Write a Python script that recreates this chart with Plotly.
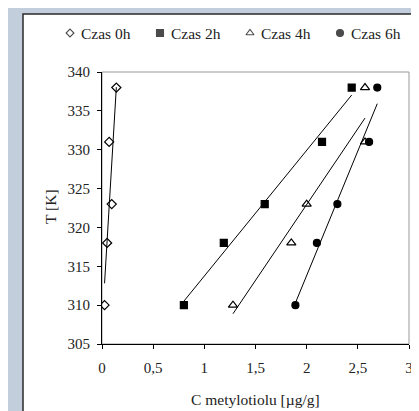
import numpy as np
import plotly.graph_objects as go

# Data (C metylotiolu [µg/g] vs T [K])
T = [310, 318, 323, 331, 338]
c_0h = [0.025, 0.05, 0.095, 0.07, 0.14]
c_2h = [0.80, 1.19, 1.59, 2.15, 2.44]
c_4h = [1.28, 1.85, 2.00, 2.57, 2.57]
c_6h = [1.89, 2.10, 2.30, 2.61, 2.69]
names = ["Czas 0h", "Czas 2h", "Czas 4h", "Czas 6h"]
x_ticks = [0, 0.5, 1, 1.5, 2, 2.5, 3]
y_ticks = [305, 310, 315, 320, 325, 330, 335, 340]
x_title = "C metylotiolu [µg/g]"
y_title = "T [K]"

series = [c_0h, c_2h, c_4h, c_6h]
symbols = ["diamond-open", "square", "triangle-up-open", "circle"]
sizes = [7, 7, 8, 7]

font = "Liberation Serif"
W, H = 419, 411
PL, PR, PT, PB = 94, 401, 64, 336   # plot area in pixels


def fx(p):
    return p / W


def fy(p):
    return 1 - p / H


fig = go.Figure()
for c, n, s, sz in zip(series, names, symbols, sizes):
    fig.add_trace(go.Scatter(x=c, y=T, mode="markers", name=n, showlegend=False,
                             marker=dict(symbol=s, size=sz, color="black",
                                         line=dict(color="black", width=1.2))))
for c in series:
    a, b = np.polyfit(c, T, 1)
    xs = np.array([min(c), max(c)])
    fig.add_trace(go.Scatter(x=xs, y=a * xs + b, mode="lines", showlegend=False,
                             line=dict(color="black", width=1), hoverinfo="skip"))

# manual legend on a full-figure pixel overlay
leg_mx = [62, 152, 242, 332]
leg_y = 25
fig.add_trace(go.Scatter(x=leg_mx, y=[leg_y] * 4, mode="markers", xaxis="x2", yaxis="y2",
                         showlegend=False, hoverinfo="skip",
                         marker=dict(symbol=symbols, size=[6, 7, 7, 7], color="black",
                                     line=dict(color="black", width=1.1))))
annotations = []
for mx, n in zip(leg_mx, names):
    annotations.append(dict(text=n, xref="paper", yref="paper", x=fx(mx + 9), y=fy(leg_y),
                            xanchor="left", yanchor="middle", showarrow=False,
                            font=dict(size=15.5, family=font, color="#222")))
annotations.append(dict(text=x_title, xref="paper", yref="paper", x=fx(248), y=fy(391),
                        xanchor="center", yanchor="middle", showarrow=False,
                        font=dict(size=15.5, family=font, color="#222")))
annotations.append(dict(text=y_title, xref="paper", yref="paper", x=fx(43), y=fy(199),
                        xanchor="center", yanchor="middle", showarrow=False, textangle=-90,
                        font=dict(size=15.5, family=font, color="#222")))

fig.update_layout(
    width=W, height=H,
    margin=dict(l=0, r=0, t=0, b=0, pad=0),
    paper_bgcolor="#c3cedc",
    plot_bgcolor="rgba(0,0,0,0)",
    separators=", ",
    font=dict(family=font, size=15, color="#222"),
    showlegend=False,
    xaxis=dict(domain=[fx(PL), fx(PR)], anchor="y", range=[0, 3], tickvals=x_ticks,
               showgrid=False, zeroline=False,
               showline=True, linecolor="black", linewidth=1, automargin=False,
               ticks="outside", ticklen=4, tickcolor="black", ticklabelstandoff=6,
               tickfont=dict(family=font, size=15, color="#222")),
    yaxis=dict(domain=[fy(PB), fy(PT)], anchor="x", range=[305, 340], tickvals=y_ticks,
               showgrid=False, zeroline=False,
               showline=True, linecolor="black", linewidth=1, automargin=False,
               ticks="outside", ticklen=4, tickcolor="black", ticklabelstandoff=4,
               tickfont=dict(family=font, size=15, color="#222")),
    xaxis2=dict(domain=[0, 1], anchor="y2", range=[0, W], visible=False, automargin=False),
    yaxis2=dict(domain=[0, 1], anchor="x2", range=[H, 0], visible=False, automargin=False),
    annotations=annotations,
    shapes=[
        dict(type="rect", xref="paper", yref="paper",
             x0=fx(15), x1=fx(440), y0=fy(440), y1=fy(6),
             fillcolor="white", line=dict(color="#2a2a2a", width=1.5), layer="below"),
        dict(type="rect", xref="paper", yref="paper",
             x0=fx(PL), x1=fx(PR), y0=fy(PB), y1=fy(PT),
             line=dict(color="#999999", width=1), layer="below"),
    ],
)

fig.write_html("out.html")
